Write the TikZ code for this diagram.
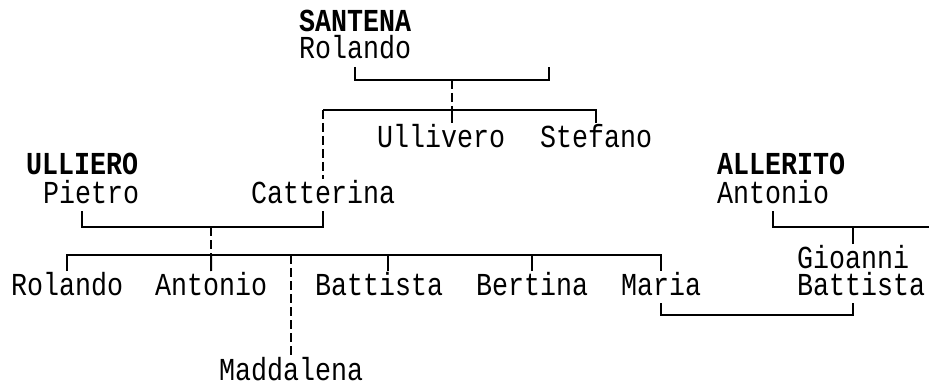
\documentclass[tikz,border=0pt]{standalone}
\usepackage{fontspec}
\usepackage{tikz}
\usetikzlibrary{calc}
\newfontfamily\treefont[FakeStretch=0.8333]{Liberation Mono}

\begin{document}
\begin{tikzpicture}[x=1pt, y=-1pt,
    person/.style={anchor=base west, inner sep=0pt, outer ysep=5pt, text height=19pt, text depth=3pt,
      font=\treefont\fontsize{32}{34}\selectfont},
    surname/.style={person, font=\treefont\bfseries\fontsize{32}{34}\selectfont},
    kin/.style={line width=2pt},
    descent/.style={kin, dash pattern=on 9pt off 4pt}]
  \useasboundingbox (0,0) rectangle (929,385);
  % names
  \node[surname] (santena)   at (299,32)  {SANTENA};
  \node[person]  (rolandoS)  at (299,59)  {Rolando};
  \node[person]  (ullivero)  at (377,147) {Ullivero};
  \node[person]  (stefano)   at (540,147) {Stefano};
  \node[surname] (ulliero)   at (26,175)  {ULLIERO};
  \node[person]  (pietro)    at (43,203)  {Pietro};
  \node[person]  (catterina) at (251,203) {Catterina};
  \node[surname] (allerito)  at (717,175) {ALLERITO};
  \node[person]  (antonioA)  at (717,203) {Antonio};
  \node[person]  (rolando)   at (11,295)  {Rolando};
  \node[person]  (antonio)   at (155,295) {Antonio};
  \node[person]  (battista)  at (315,295) {Battista};
  \node[person]  (bertina)   at (476,295) {Bertina};
  \node[person]  (maria)     at (621,295) {Maria};
  \node[person]  (gioanni)   at (797,268) {Gioanni};
  \node[person]  (battistaG) at (797,295) {Battista};
  \node[person]  (maddalena) at (219,380) {Maddalena};
  % junctions
  \coordinate (sR) at (549,67);
  \coordinate (sM) at (452,80);
  \coordinate (sK) at (452,110);
  \coordinate (pM) at (211,227);
  \coordinate (pK) at (211,255);
  \coordinate (bT) at (388,255);
  \coordinate (aE) at (929,227);
  \coordinate (mG) at (757,315);
  % Santena family
  \draw[kin] (rolandoS.south) |- (sM) -| (sR);
  \draw[descent] (sM) -- (sK);
  \draw[kin] (catterina |- sK) -| (stefano.north);
  \draw[kin] (sK) -- (ullivero.north -| sK);
  \draw[descent] (catterina |- sK) -- (catterina.north);
  % Ulliero family
  \draw[kin] ([xshift=-9pt]pietro.south) |- (pM) -| (catterina.south);
  \draw[descent] (pM) -- (pK);
  \draw[kin] (rolando.north) |- (pK) -| (maria.north);
  \draw[kin] (pK) -- (antonio.north);
  \draw[kin] (bT) -- (battista.north -| bT);
  \draw[kin] (bertina.north) -- (bertina.north |- pK);
  \draw[descent] (maddalena.north |- pK) -- (maddalena.north);
  % Allerito family
  \draw[kin] (antonioA.south) |- (aE);
  \draw[kin] (gioanni.north) -- (gioanni.north |- aE);
  \draw[kin] (maria.south) |- (mG) -| (gioanni |- battistaG.south);
\end{tikzpicture}
\end{document}
